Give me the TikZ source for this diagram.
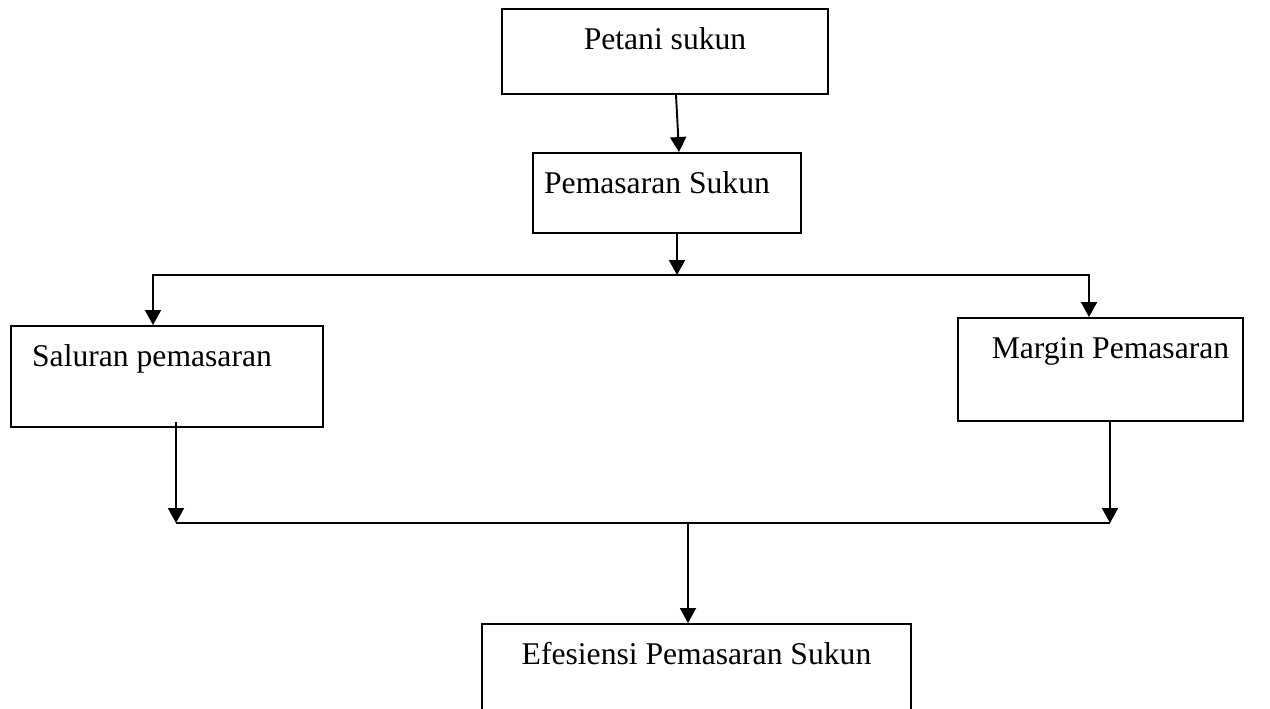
\documentclass[tikz,border=0pt]{standalone}
\usepackage{fontspec}
\setmainfont{Liberation Serif}
\usepackage{tikz}
\usetikzlibrary{positioning,arrows.meta}

\begin{document}
\begin{tikzpicture}[x=0.02cm, y=-0.02cm,
          kotak/.style={draw, line width=1.1pt, inner sep=0pt, text height=0.8cm,
              font=\fontsize{18}{22}\selectfont, align=center},
          arr/.style={-{Triangle[width=0.32cm,length=0.3cm]}, line width=1.1pt},
          garis/.style={line width=1.1pt}
        ]
        \clip (0,0) rectangle (1270,708);
        \node[kotak, minimum width=6.52cm, text depth=0.9cm]  (petani)    at (665,51.5)   {Petani sukun};
        \node[kotak, minimum width=5.36cm, text depth=0.8cm]  (pemasaran) at (667,193)    {Pemasaran Sukun\hspace*{0.4cm}};
        \node[kotak, minimum width=6.24cm, text depth=1.22cm] (saluran)   at (167,376.5)  {Saluran pemasaran\hspace*{0.6cm}};
        \node[kotak, minimum width=5.7cm,  text depth=1.26cm] (margin)    at (1100.5,369.5) {\hspace*{0.4cm}Margin Pemasaran};
        \node[kotak, minimum width=8.58cm, text depth=1.2cm]  (efesiensi) at (696.5,674)  {Efesiensi Pemasaran Sukun};
        \coordinate (cabang)     at (677,275);
        \coordinate (kiribawah)  at (176,523);
        \coordinate (kananbawah) at (1110,523);
        \coordinate (gabung)     at (688,523);
        \draw[arr] ([xshift=0.22cm]petani.south) -- ([xshift=0.24cm]pemasaran.north);
        \draw[arr] ([xshift=0.2cm]pemasaran.south) -- (cabang);
        \draw[arr] (cabang) -| ([xshift=-0.28cm]saluran.north);
        \draw[arr] (cabang) -| ([xshift=-0.23cm]margin.north);
        \draw[arr] (saluran.south -| kiribawah) ++(0,-6) -- (kiribawah);
        \draw[arr] (margin.south -| kananbawah) -- (kananbawah);
        \draw[garis] (kiribawah) -- (kananbawah);
        \draw[arr] (gabung) -- (efesiensi.north -| gabung);
      \end{tikzpicture}
\end{document}
